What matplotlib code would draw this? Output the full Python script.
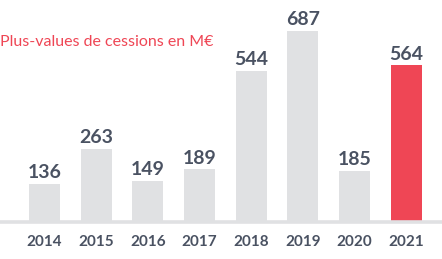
import matplotlib.pyplot as plt

years = ['2014', '2015', '2016', '2017', '2018', '2019', '2020', '2021']
values = [136, 263, 149, 189, 544, 687, 185, 564]

grey = '#e0e1e3'
red = '#ef4655'
text_col = '#4a5262'

plt.rcParams['font.family'] = ['Lato', 'DejaVu Sans']

fig = plt.figure(figsize=(4.42, 2.59), dpi=100)
ax = fig.add_axes([0, 1 - 222 / 259, 1, 222 / 259])

colors = [grey] * (len(values) - 1) + [red]
x = range(len(values))
bars = ax.bar(x, values, width=0.6, color=colors, zorder=2)

# étiquettes de valeurs au-dessus des barres
for b, v in zip(bars, values):
    ax.annotate(str(v), (b.get_x() + b.get_width() / 2, v),
                xytext=(0, 2), textcoords='offset points',
                ha='center', va='bottom', fontsize=14, fontweight='bold',
                color=text_col)

ax.axhline(0, color=grey, lw=2.6, zorder=3, clip_on=False)

ax.set_xlim(-0.861, 7.689)
ax.set_ylim(0, 799)
ax.set_xticks(list(x))
ax.set_xticklabels(years, fontsize=11, fontweight='bold', color=text_col)
ax.tick_params(axis='x', length=0, pad=9)
ax.set_yticks([])
for s in ax.spines.values():
    s.set_visible(False)

fig.text(0.0, 1 - 42 / 259, 'Plus-values de cessions en M€', color=red,
         fontsize=11.5, ha='left', va='center')

fig.savefig('out.png', dpi=100)
